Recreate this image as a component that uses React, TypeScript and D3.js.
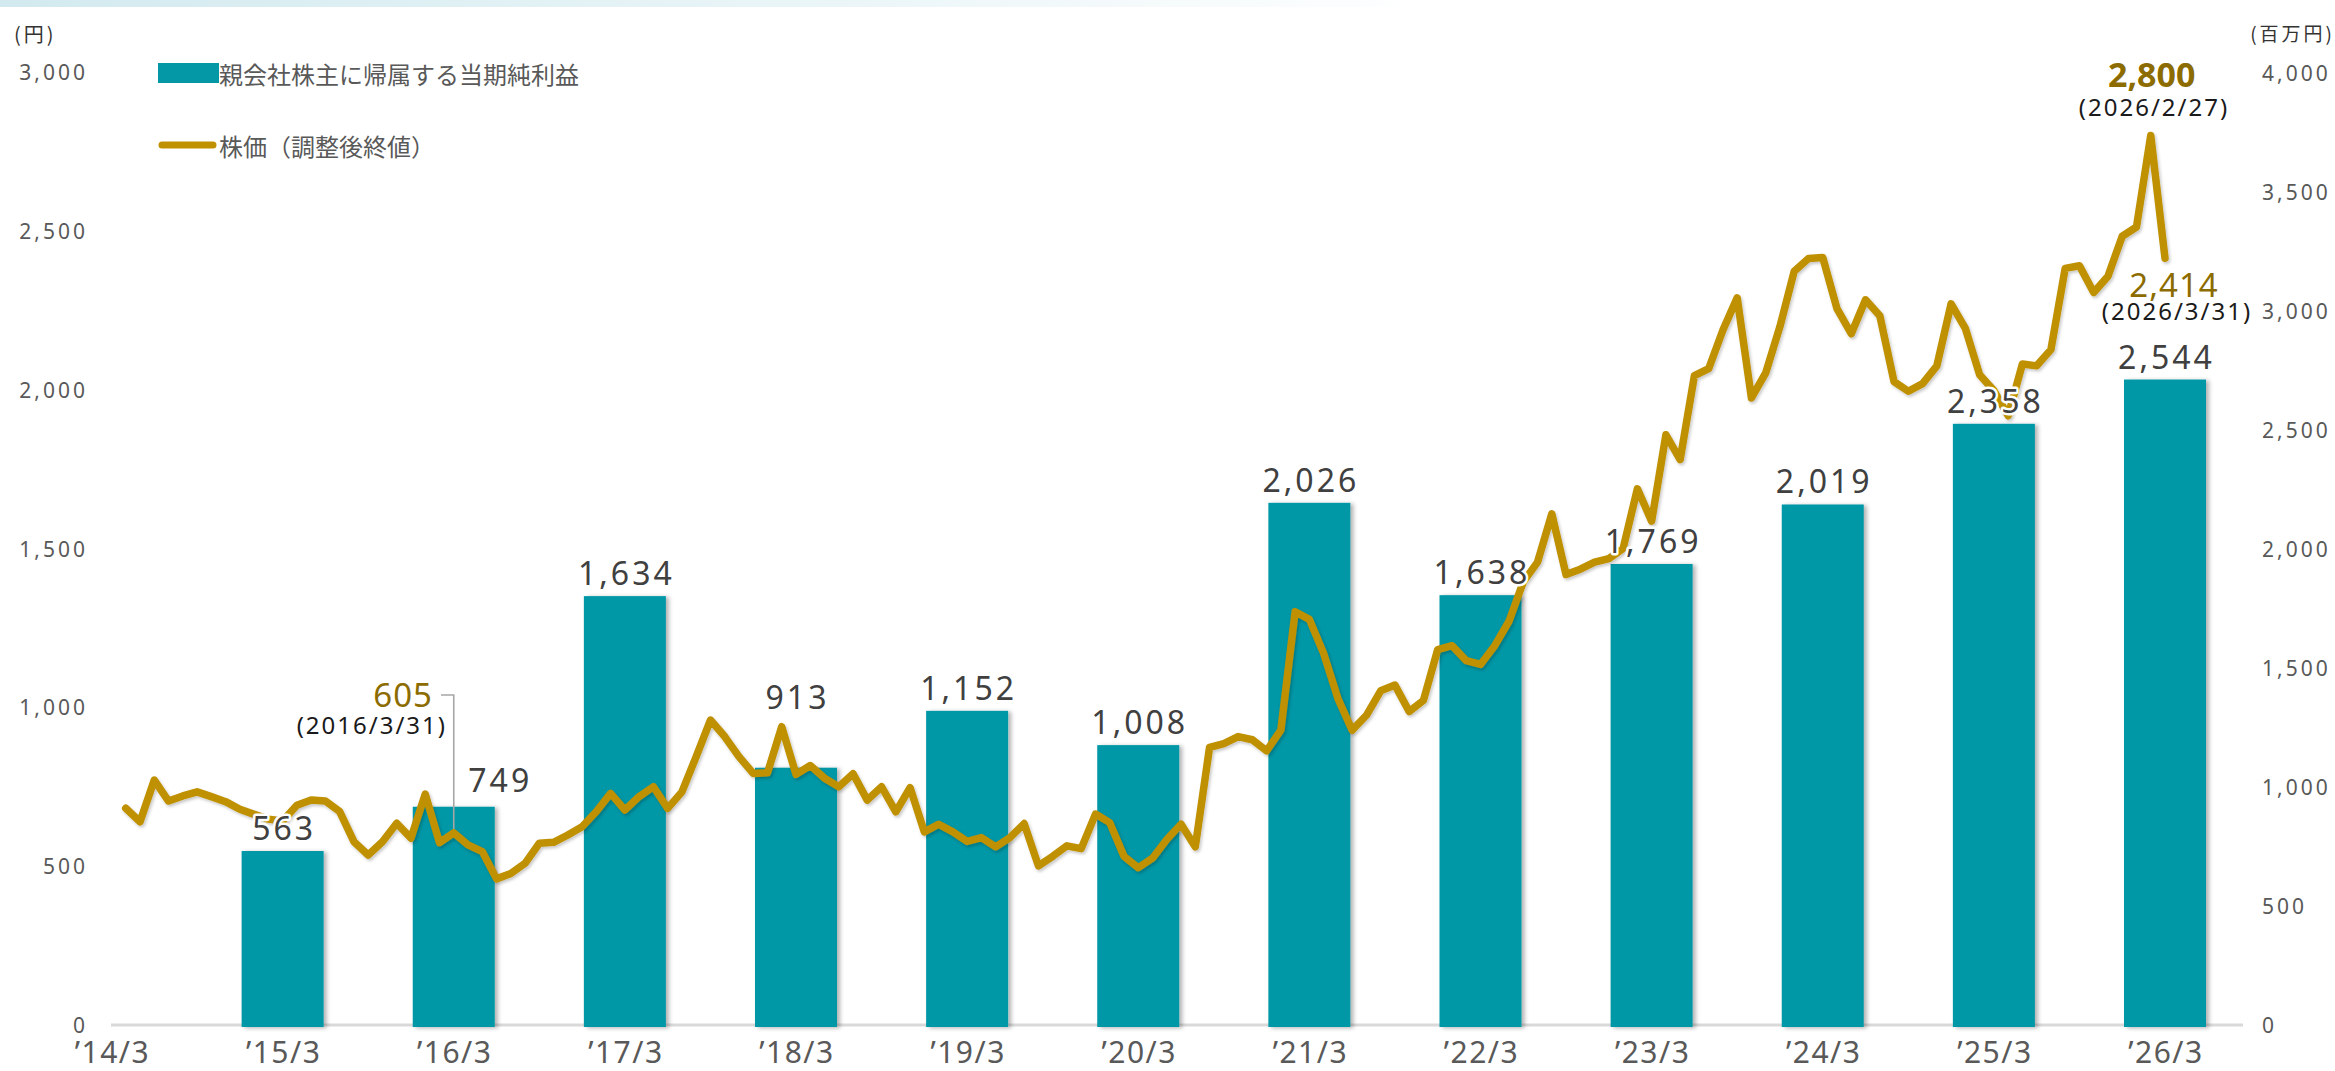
import React from 'react';
import * as d3 from 'd3';

const W = 2335;
const H = 1071;

// x categories (fiscal year end)
const yearLabels = ['’14/3', '’15/3', '’16/3', '’17/3', '’18/3', '’19/3', '’20/3', '’21/3', '’22/3', '’23/3', '’24/3', '’25/3', '’26/3'];
// 親会社株主に帰属する当期純利益 (百万円), '15/3 .. '26/3
const netIncome = [563, 749, 1634, 913, 1152, 1008, 2026, 1638, 1769, 2019, 2358, 2544];

const leftTicks = [0, 500, 1000, 1500, 2000, 2500, 3000];
const rightTicks = [0, 500, 1000, 1500, 2000, 2500, 3000, 3500, 4000];

// 株価（調整後終値）month-end, April .. March of each fiscal year
const priceFY2014 = [682, 640, 771, 705, 721, 734, 719, 703, 679, 663, 648, 642];
const priceFY2015 = [692, 708, 705, 672, 577, 535, 577, 635, 588, 727, 574, 605];
const priceFY2016 = [567, 546, 460, 477, 509, 572, 575, 598, 624, 672, 729, 677];
const priceFY2017 = [719, 750, 682, 734, 845, 960, 908, 845, 792, 794, 939, 789];
const priceFY2018 = [817, 777, 750, 791, 708, 750, 671, 747, 608, 632, 608, 578];
const priceFY2019 = [590, 561, 590, 634, 501, 531, 564, 555, 664, 637, 531, 495];
const priceFY2020 = [525, 584, 632, 561, 874, 886, 908, 898, 863, 928, 1301, 1277];
const priceFY2021 = [1170, 1028, 928, 975, 1052, 1070, 987, 1022, 1182, 1194, 1147, 1135];
const priceFY2022 = [1194, 1271, 1395, 1457, 1609, 1418, 1435, 1457, 1468, 1500, 1688, 1586];
const priceFY2023 = [1858, 1780, 2044, 2066, 2188, 2289, 1974, 2053, 2199, 2373, 2413, 2416];
const priceFY2024 = [2255, 2176, 2283, 2233, 2025, 1995, 2019, 2075, 2270, 2193, 2047, 1997];
const priceFY2025 = [1918, 2081, 2075, 2126, 2382, 2390, 2306, 2357, 2483, 2512, 2800, 2414];

const TEAL = '#0497a6';
const GOLD = '#bf9000';
const DARK_GOLD = '#8c6c00';
const LATIN = '"Noto Sans", "Noto Sans CJK JP", sans-serif';
const CJK = '"Noto Sans CJK JP", "Noto Sans", sans-serif';

// bars in the source sit a bit higher than the printed right scale
const BAR_LIFT = 168;

export default function App() {
  const baseY = 1025;
  const prices = [
    ...priceFY2014, ...priceFY2015, ...priceFY2016, ...priceFY2017,
    ...priceFY2018, ...priceFY2019, ...priceFY2020, ...priceFY2021,
    ...priceFY2022, ...priceFY2023, ...priceFY2024, ...priceFY2025,
  ];
  const nMonths = (yearLabels.length - 1) * 12;

  const xM = d3.scaleLinear().domain([0, nMonths]).range([111.5, 2165]);
  const yL = d3.scaleLinear().domain([0, 3000]).range([baseY, 72]);
  const yR = d3.scaleLinear().domain([0, 4000]).range([baseY, 73]);
  const yBar = d3.scaleLinear().domain([-BAR_LIFT, 4000 - BAR_LIFT]).range([baseY, 73]);
  const barW = 82;
  const fmt = d3.format(',');

  const line = d3.line<number>()
    .x((d, i) => xM(i + 1))
    .y(d => yL(d))
    .curve(d3.curveLinear);

  // label nudges where the source moved a value label off the line
  const labelNudge: Record<number, { dx: number; dy: number }> = {
    1: { dx: 45, dy: -4 },
    3: { dx: 0, dy: -48 },
  };

  const peakIdx = prices.length - 2;
  const lastIdx = prices.length - 1;
  const fy2016Idx = 23; // 2016/3

  return (
    <svg width={W} height={H} style={{ position: 'absolute', left: 0, top: 0, background: '#fff' }}>
      <defs>
        <linearGradient id="topBand" x1="0" x2="1" y1="0" y2="0">
          <stop offset="0" stopColor="#d2eaef" />
          <stop offset="0.4" stopColor="#eef7f9" />
          <stop offset="0.62" stopColor="#ffffff" />
        </linearGradient>
        <filter id="barShadow" x="-20%" y="-5%" width="140%" height="110%">
          <feDropShadow dx="3" dy="1" stdDeviation="2.2" floodColor="#000" floodOpacity="0.3" />
        </filter>
        <filter id="lineShadow" x="-5%" y="-5%" width="110%" height="110%">
          <feDropShadow dx="1.5" dy="2" stdDeviation="1.8" floodColor="#000" floodOpacity="0.22" />
        </filter>
      </defs>

      <rect x={0} y={0} width={W} height={7} fill="url(#topBand)" />

      {/* unit labels */}
      <text x={14} y={33} fontFamily={CJK} fontSize={20} letterSpacing={3} fill="#333" dominantBaseline="central">(円)</text>
      <text x={2335} y={32} fontFamily={CJK} fontSize={19} letterSpacing={3} fill="#333" textAnchor="end" dominantBaseline="central">(百万円)</text>

      {/* left axis */}
      {leftTicks.map(t => (
        <text key={'l' + t} x={88} y={yL(t)} textAnchor="end" dominantBaseline="central"
          fontFamily={LATIN} fontSize={21} letterSpacing={3} fill="#595959">
          {fmt(t)}
        </text>
      ))}
      {/* right axis */}
      {rightTicks.map(t => (
        <text key={'r' + t} x={2262} y={yR(t)} textAnchor="start" dominantBaseline="central"
          fontFamily={LATIN} fontSize={21} letterSpacing={3} fill="#595959">
          {fmt(t)}
        </text>
      ))}

      {/* baseline */}
      <line x1={111} x2={2243} y1={baseY} y2={baseY} stroke="#d9d9d9" strokeWidth={3} />

      {/* bars */}
      <g filter="url(#barShadow)">
        {netIncome.map((v, i) => {
          const cx = xM((i + 1) * 12);
          const top = yBar(v);
          return <rect key={i} x={cx - barW / 2} y={top} width={barW} height={baseY + 2 - top} fill={TEAL} />;
        })}
      </g>

      {/* x labels */}
      {yearLabels.map((lab, i) => (
        <text key={lab} x={xM(i * 12) + 1} y={1063} textAnchor="middle" fontFamily={LATIN}
          fontSize={30} letterSpacing={1.5} fill="#595959">
          {lab}
        </text>
      ))}

      {/* 605 connector */}
      <polyline
        points={`441,695 ${xM(fy2016Idx + 1)},695 ${xM(fy2016Idx + 1)},${yL(prices[fy2016Idx])}`}
        fill="none" stroke="#a6a6a6" strokeWidth={1.6} />

      {/* stock price line */}
      <path d={line(prices) || ''} fill="none" stroke={GOLD} strokeWidth={7.5}
        strokeLinejoin="round" strokeLinecap="round" filter="url(#lineShadow)" />

      {/* bar value labels */}
      {netIncome.map((v, i) => {
        const nudge = labelNudge[i] || { dx: 0, dy: 0 };
        return (
          <text key={'v' + i} x={xM((i + 1) * 12) + nudge.dx + 1.5} y={yBar(v) - 11 + nudge.dy}
            textAnchor="middle" fontFamily={LATIN} fontSize={32} letterSpacing={3} fill="#404040"
            stroke="#fff" strokeWidth={5} strokeLinejoin="round" style={{ paintOrder: 'stroke' }}>
            {fmt(v)}
          </text>
        );
      })}

      {/* legend */}
      <rect x={158} y={63} width={61} height={20} fill={TEAL} />
      <text x={219} y={73} dominantBaseline="central" fontFamily={CJK} fontSize={24} fill="#595959">
        親会社株主に帰属する当期純利益
      </text>
      <line x1={162} x2={213} y1={145} y2={145} stroke={GOLD} strokeWidth={7} strokeLinecap="round" />
      <text x={219} y={145} dominantBaseline="central" fontFamily={CJK} fontSize={24} fill="#595959">
        株価（調整後終値）
      </text>

      {/* annotations */}
      <text x={xM(peakIdx + 1) + 1} y={87} textAnchor="middle" fontFamily={LATIN} fontSize={34}
        fontWeight={700} fill={DARK_GOLD}>
        {fmt(prices[peakIdx])}
      </text>
      <text x={2154} y={116} textAnchor="middle" fontFamily={LATIN} fontSize={24} letterSpacing={2} fill="#1a1a1a">
        (2026/2/27)
      </text>
      <text x={2174} y={297} textAnchor="middle" fontFamily={LATIN} fontSize={33} letterSpacing={1} fill={DARK_GOLD}>
        {fmt(prices[lastIdx])}
      </text>
      <text x={2177} y={320} textAnchor="middle" fontFamily={LATIN} fontSize={24} letterSpacing={2} fill="#1a1a1a">
        (2026/3/31)
      </text>
      <text x={433} y={707} textAnchor="end" fontFamily={LATIN} fontSize={33} letterSpacing={1} fill={DARK_GOLD}>
        {fmt(prices[fy2016Idx])}
      </text>
      <text x={447} y={734} textAnchor="end" fontFamily={LATIN} fontSize={24} letterSpacing={2} fill="#1a1a1a">
        (2016/3/31)
      </text>
    </svg>
  );
}
